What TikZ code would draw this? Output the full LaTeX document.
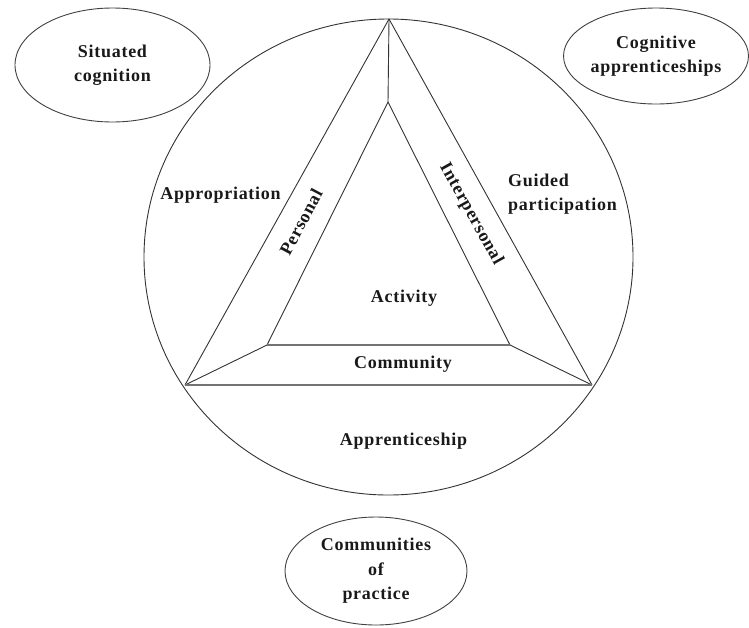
\documentclass[tikz,border=0pt]{standalone}
\usepackage{fontspec}
\setmainfont{Liberation Serif}[LetterSpace=4]
\usetikzlibrary{shapes.geometric}
\begin{document}
\begin{tikzpicture}[x=1pt,y=-1pt,
  lbl/.style={font=\bfseries\fontsize{18}{24.5}\selectfont, inner sep=0pt, align=center, text=black!90},
  oval/.style={draw=black!75, line width=0.9pt, ellipse, inner sep=0pt, lbl},
  edge/.style={draw=black!80, line width=0.9pt, line join=round},
  base/.style={draw=black!55, line width=1.6pt}]
\useasboundingbox (0,0) rectangle (749,627);
% big ring
\draw[edge] (388.5,257) ellipse [x radius=244.5pt, y radius=238pt];
% triangle corners
\coordinate (O1) at (389,19);
\coordinate (O2) at (185,385);
\coordinate (O3) at (592,385);
\coordinate (I1) at (388,102);
\coordinate (I2) at (267,345);
\coordinate (I3) at (510,345);
\draw[edge] (O2) -- (O1) -- (O3);
\draw[edge] (I2) -- (I1) -- (I3);
\draw[edge] (O1) -- (I1);
\draw[edge] (O2) -- (I2);
\draw[edge] (O3) -- (I3);
\draw[base] (O2) -- (O3);
\draw[base] (I2) -- (I3);
% outer ovals
\node[oval, minimum width=195pt, minimum height=114pt] (sit) at (112.5,65) {Situated\\cognition};
\node[oval, minimum width=184pt, minimum height=96pt] (cog) at (656,56) {Cognitive\\apprenticeships};
\node[oval, minimum width=182pt, minimum height=108pt] (com) at (376,571) {Communities\\of\\practice};
% labels
\node[lbl] (appr) at (220.5,195) {Appropriation};
\node[lbl, anchor=west, align=left] (guid) at (508,194) {Guided\\participation};
\node[lbl, rotate=62] (pers) at (301,222) {Personal};
\node[lbl, rotate=-61] (inter) at (471,214) {Interpersonal};
\node[lbl] (act) at (404,298) {Activity};
\node[lbl] (cmty) at (403,364) {Community};
\node[lbl] (app) at (403.5,441) {Apprenticeship};
\end{tikzpicture}
\end{document}
